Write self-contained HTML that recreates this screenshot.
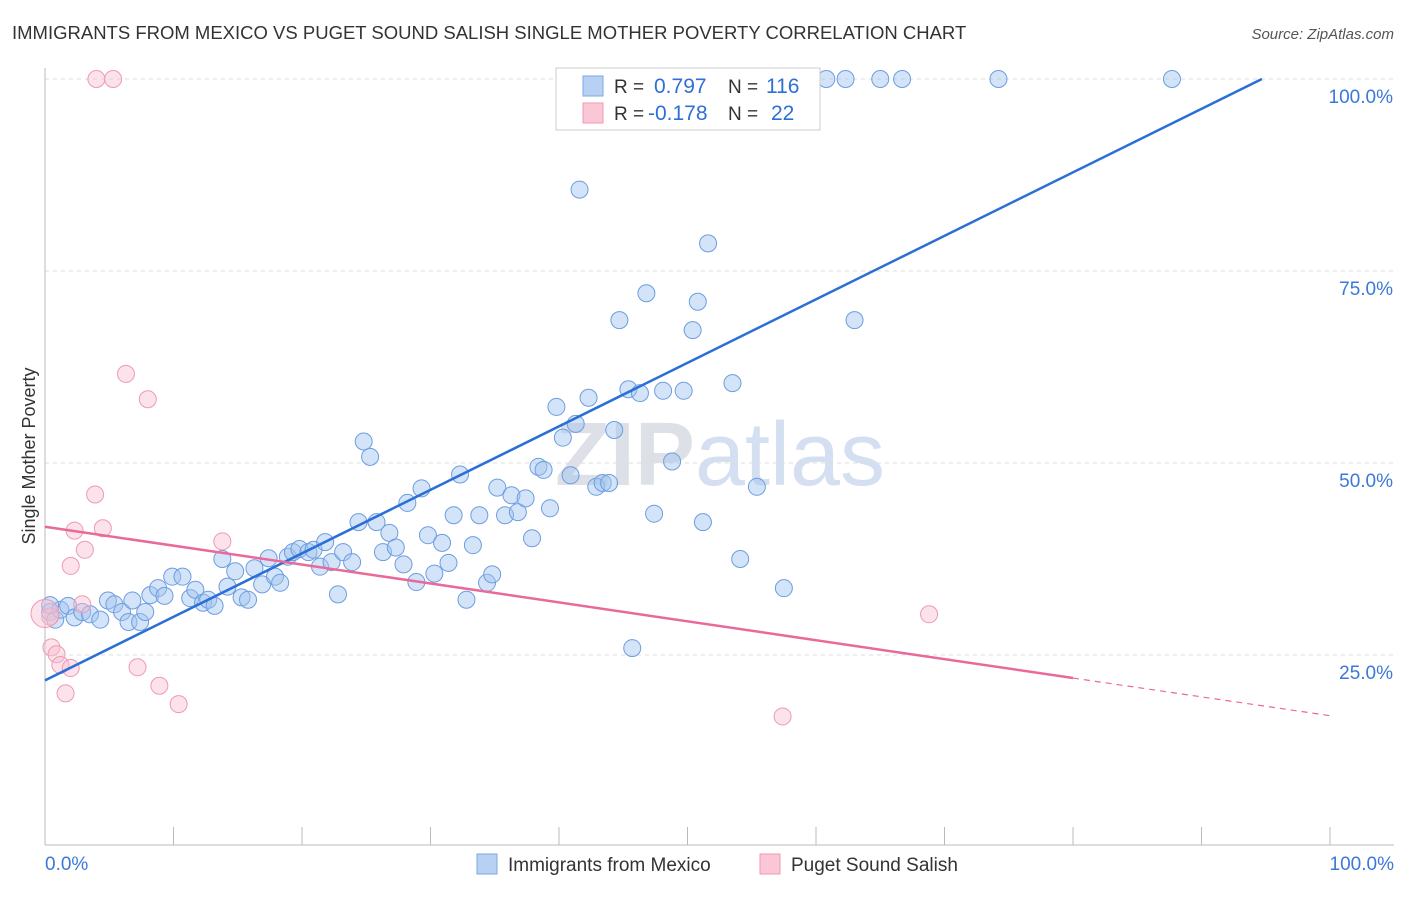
<!DOCTYPE html>
<html><head><meta charset="utf-8"><style>
body{margin:0;background:#fff;font-family:"Liberation Sans",sans-serif;}
svg text{font-family:"Liberation Sans",sans-serif;}
</style></head><body>
<svg id="chart" width="1406" height="892">
<text x="12" y="39" font-size="18.5" fill="#333">IMMIGRANTS FROM MEXICO VS PUGET SOUND SALISH SINGLE MOTHER POVERTY CORRELATION CHART</text>
<text x="1394" y="39" font-size="15" fill="#555" font-style="italic" text-anchor="end">Source: ZipAtlas.com</text>
<text x="35" y="456" font-size="18" fill="#333" text-anchor="middle" transform="rotate(-90 35 456)">Single Mother Poverty</text>
<text x="720" y="485" font-size="90" fill="#d8dde6" text-anchor="middle" opacity="0.6"><tspan font-weight="bold" fill="#c8ced8">ZIP</tspan><tspan fill="#b8cde8">atlas</tspan></text>
<g id="grid"></g><g id="marks"></g>
<g>
<rect x="556" y="68" width="264" height="62" fill="#fff" stroke="#ccc"/>
<rect x="583" y="76" width="20" height="20" fill="#b8d1f3" stroke="#7aa7e6"/>
<rect x="583" y="103" width="20" height="20" fill="#f9c7d5" stroke="#ee99b3"/>
<text x="614" y="93" font-size="19" fill="#333">R = </text><text x="654" y="93" font-size="21" fill="#2e6fd6">0.797</text>
<text x="728" y="93" font-size="19" fill="#333">N = </text><text x="766" y="93" font-size="21" fill="#2e6fd6">116</text>
<text x="614" y="120" font-size="19" fill="#333">R = </text><text x="648" y="120" font-size="21" fill="#2e6fd6">-0.178</text>
<text x="728" y="120" font-size="19" fill="#333">N = </text><text x="771" y="120" font-size="21" fill="#2e6fd6">22</text>
</g>
<g>
<rect x="477" y="854" width="20" height="20" fill="#b8d1f3" stroke="#7aa7e6"/>
<text x="508" y="871" font-size="19" fill="#333">Immigrants from Mexico</text>
<rect x="760" y="854" width="20" height="20" fill="#f9c7d5" stroke="#ee99b3"/>
<text x="791" y="871" font-size="19" fill="#333">Puget Sound Salish</text>
</g>
</svg>
<script>
const yTicks=[25,50,75,100];
const xTickLabels=["0.0%","100.0%"];
const blueX=[0.4,0.8,1.2,1.8,2.3,2.9,3.5,4.3,4.9,5.4,6.0,6.5,6.8,7.4,7.8,8.2,8.8,9.3,9.9,10.7,11.3,11.7,12.3,12.7,13.2,13.8,14.2,14.8,15.3,15.8,16.3,16.9,17.4,17.9,18.3,18.9,19.3,19.8,20.5,20.9,21.4,21.8,22.3,22.8,23.2,23.9,24.4,24.8,25.3,25.8,26.3,26.8,27.3,27.9,28.2,28.9,29.3,29.8,30.3,30.9,31.4,31.8,32.3,32.8,33.3,33.8,34.4,34.8,35.2,35.8,36.3,36.8,37.4,37.9,38.4,38.8,39.3,39.8,40.3,40.9,41.3,41.6,42.3,42.9,43.4,43.9,44.3,44.7,45.4,45.7,46.3,46.8,47.4,48.1,48.8,49.7,50.4,50.8,51.2,51.6,53.5,54.1,55.4,57.5,63.0,54.5,56.3,60.8,62.3,65.0,66.7,74.2,87.7,54.1,0.4];
const blueY=[30.6,29.6,30.9,31.4,29.9,30.6,30.3,29.6,32.1,31.6,30.6,29.3,32.1,29.3,30.6,32.8,33.7,32.7,35.2,35.2,32.4,33.5,31.8,32.2,31.4,37.5,33.9,35.9,32.5,32.2,36.3,34.2,37.6,35.2,34.4,37.8,38.4,38.8,38.4,38.7,36.5,39.7,37.1,32.9,38.4,37.1,42.3,52.8,50.8,42.3,38.4,40.9,39.0,36.8,44.8,34.5,46.7,40.6,35.6,39.6,37.0,43.2,48.5,32.2,39.3,43.2,34.4,35.5,46.8,43.2,45.8,43.6,45.4,40.2,49.5,49.1,44.1,57.3,53.3,48.4,55.1,85.6,58.5,46.9,47.4,47.4,54.3,68.6,59.6,25.9,59.1,72.1,43.4,59.4,50.2,59.4,67.3,71.0,42.3,78.6,60.4,37.5,46.9,33.7,68.6,100,100,100,100,100,100,100,100,100,31.5];
const pinkX=[0.4,0.5,0.9,1.2,1.6,2.0,2.0,2.3,2.9,3.1,3.9,4.0,5.3,4.5,6.3,7.2,8.0,8.9,10.4,13.8,57.4,68.8,0.0];
const pinkY=[30.0,26.0,25.1,23.7,20.0,23.3,36.6,41.2,31.6,38.7,45.9,100,100,41.5,61.6,23.4,58.3,21.0,18.6,39.8,17.0,30.3,30.4];
const blueFit=[21.7,100];const blueFitX=[0,94.7];
const pinkFit=[41.7,22.0,17.1];const pinkFitX=[0,80,100];
const NS="http://www.w3.org/2000/svg";
const X=v=>45+v*12.85, Y=v=>847-v*7.68;
function mk(t,a,p){const e=document.createElementNS(NS,t);for(const k in a)e.setAttribute(k,a[k]);p.appendChild(e);return e;}
const g=document.getElementById('grid'), m=document.getElementById('marks');
yTicks.forEach(t=>{
 const l=mk('line',{x1:45,x2:1394,y1:Y(t),y2:Y(t),stroke:'#ddd','stroke-dasharray':'4,4'},g);
 
 
 const tx=mk('text',{x:1393,y:Y(t)+24,'font-size':19,fill:'#3b78d8','text-anchor':'end'},g);tx.textContent=t.toFixed(1)+'%';
 
 
});
mk('line',{x1:45,x2:45,y1:68,y2:845,stroke:'#bbb'},g);
mk('line',{x1:45,x2:1394,y1:845,y2:845,stroke:'#bbb'},g);
for(let i=0;i<=10;i++){mk('line',{x1:X(i*10),x2:X(i*10),y1:827,y2:845,stroke:'#bbb'},g);}
[[0,'start',45],[1,'end',1394]].forEach(([i,a,x])=>{const t=mk('text',{x:x,y:870,'font-size':19,fill:'#3b78d8','text-anchor':a},g);t.textContent=xTickLabels[i];
 
 });
blueX.forEach((v,i)=>{const c=mk('circle',{cx:X(v),cy:Y(blueY[i]),r:8.5,fill:'rgba(160,195,240,0.45)',stroke:'#6d9de0','stroke-width':1},m);
 
 });
pinkX.forEach((v,i)=>{const c=mk('circle',{cx:X(v),cy:Y(pinkY[i]),r:i==22?14:8.5,fill:'rgba(248,190,208,0.45)',stroke:'#ee9ab4','stroke-width':1},m);
 
 });
const bl=mk('line',{x1:X(blueFitX[0]),y1:Y(blueFit[0]),x2:X(blueFitX[1]),y2:Y(blueFit[1]),stroke:'#2a6fd6','stroke-width':2.5},m);


const pl=mk('line',{x1:X(pinkFitX[0]),y1:Y(pinkFit[0]),x2:X(pinkFitX[1]),y2:Y(pinkFit[1]),stroke:'#e8699a','stroke-width':2.5},m);


const pd=mk('line',{x1:X(pinkFitX[1]),y1:Y(pinkFit[1]),x2:X(pinkFitX[2]),y2:Y(pinkFit[2]),stroke:'#e8699a','stroke-width':1.2,'stroke-dasharray':'6,5'},m);


</script>
</body></html>
